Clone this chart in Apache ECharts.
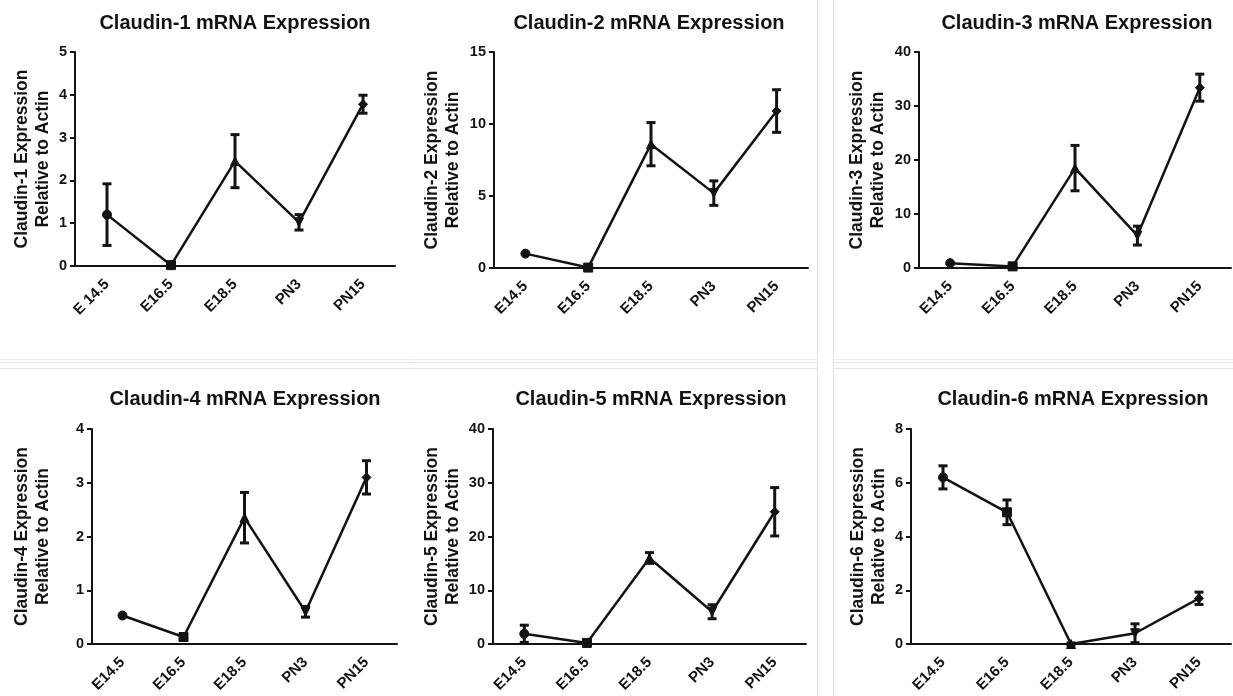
<!DOCTYPE html>
<html>
<head>
<meta charset="utf-8">
<script src="https://cdn.jsdelivr.net/npm/echarts@6/dist/echarts.min.js"></script>
<style>
html,body{margin:0;padding:0;background:#fff;}
#c{width:1233px;height:696px;}
</style>
</head>
<body>
<div id="c"></div>
<script>
// ---- data ----
const categories1 = ['E 14.5', 'E16.5', 'E18.5', 'PN3', 'PN15'];
const categories = ['E14.5', 'E16.5', 'E18.5', 'PN3', 'PN15'];

const cldn1Mean = [1.2, 0.02, 2.45, 1.02, 3.78];
const cldn1Err  = [0.72, 0.03, 0.62, 0.18, 0.21];
const cldn1Ticks = { min: 0, max: 5, interval: 1 };

const cldn2Mean = [1.0, 0.03, 8.6, 5.2, 10.9];
const cldn2Err  = [0, 0, 1.5, 0.85, 1.48];
const cldn2Ticks = { min: 0, max: 15, interval: 5 };

const cldn3Mean = [0.9, 0.3, 18.5, 6.0, 33.4];
const cldn3Err  = [0, 0.2, 4.2, 1.75, 2.5];
const cldn3Ticks = { min: 0, max: 40, interval: 10 };

const cldn4Mean = [0.53, 0.13, 2.35, 0.6, 3.1];
const cldn4Err  = [0, 0.02, 0.47, 0.1, 0.31];
const cldn4Ticks = { min: 0, max: 4, interval: 1 };

const cldn5Mean = [1.9, 0.2, 16.0, 6.0, 24.6];
const cldn5Err  = [1.6, 0.2, 1.0, 1.3, 4.5];
const cldn5Ticks = { min: 0, max: 40, interval: 10 };

const cldn6Mean = [6.2, 4.9, 0, 0.4, 1.7];
const cldn6Err  = [0.43, 0.46, 0.04, 0.35, 0.23];
const cldn6Ticks = { min: 0, max: 8, interval: 2 };

const titles = [
  'Claudin-1 mRNA Expression', 'Claudin-2 mRNA Expression', 'Claudin-3 mRNA Expression',
  'Claudin-4 mRNA Expression', 'Claudin-5 mRNA Expression', 'Claudin-6 mRNA Expression'
];
const yNames = [
  'Claudin-1 Expression\nRelative to Actin', 'Claudin-2 Expression\nRelative to Actin',
  'Claudin-3 Expression\nRelative to Actin', 'Claudin-4 Expression\nRelative to Actin',
  'Claudin-5 Expression\nRelative to Actin', 'Claudin-6 Expression\nRelative to Actin'
];

// ---- layout (styles) ----
const panels = [
  { cats: categories1, mean: cldn1Mean, err: cldn1Err, ticks: cldn1Ticks, grid: {left: 75, top: 52, width: 320, height: 214}, titleX: 230, titleTop: 8, nameGap: 21 },
  { cats: categories, mean: cldn2Mean, err: cldn2Err, ticks: cldn2Ticks, grid: {left: 494, top: 52, width: 314, height: 216}, titleX: 644, titleTop: 8, nameGap: 30 },
  { cats: categories, mean: cldn3Mean, err: cldn3Err, ticks: cldn3Ticks, grid: {left: 919, top: 52, width: 312, height: 216}, titleX: 1072, titleTop: 8, nameGap: 30 },
  { cats: categories, mean: cldn4Mean, err: cldn4Err, ticks: cldn4Ticks, grid: {left: 92, top: 429, width: 305, height: 215}, titleX: 240, titleTop: 384, nameGap: 38 },
  { cats: categories, mean: cldn5Mean, err: cldn5Err, ticks: cldn5Ticks, grid: {left: 493, top: 429, width: 313, height: 215}, titleX: 646, titleTop: 384, nameGap: 29 },
  { cats: categories, mean: cldn6Mean, err: cldn6Err, ticks: cldn6Ticks, grid: {left: 911, top: 429, width: 320, height: 215}, titleX: 1068, titleTop: 384, nameGap: 21 }
];

const INK = '#131313';
const FONT = '"Liberation Sans", Arial, sans-serif';
const shapes = ['circle', 'rect', 'triangle', 'path://M0,0 L10,0 L5,10 Z', 'diamond'];

const option = {
  animation: false,
  backgroundColor: '#fff',
  title: [], grid: [], xAxis: [], yAxis: [], series: [],
  graphic: [
    { type: 'line', shape: {x1: 817.5, y1: 0, x2: 817.5, y2: 696}, style: {stroke: '#e2e2e2', lineWidth: 1}, silent: true },
    { type: 'line', shape: {x1: 833.5, y1: 0, x2: 833.5, y2: 696}, style: {stroke: '#e2e2e2', lineWidth: 1}, silent: true },
    { type: 'line', shape: {x1: 0, y1: 359.5, x2: 817, y2: 359.5}, style: {stroke: '#ececec', lineWidth: 1}, silent: true },
    { type: 'line', shape: {x1: 0, y1: 362.5, x2: 817, y2: 362.5}, style: {stroke: '#e4e4e4', lineWidth: 1}, silent: true },
    { type: 'line', shape: {x1: 0, y1: 368.5, x2: 817, y2: 368.5}, style: {stroke: '#e4e4e4', lineWidth: 1}, silent: true },
    { type: 'line', shape: {x1: 834, y1: 359.5, x2: 1233, y2: 359.5}, style: {stroke: '#ececec', lineWidth: 1}, silent: true },
    { type: 'line', shape: {x1: 834, y1: 362.5, x2: 1233, y2: 362.5}, style: {stroke: '#e4e4e4', lineWidth: 1}, silent: true },
    { type: 'line', shape: {x1: 834, y1: 368.5, x2: 1233, y2: 368.5}, style: {stroke: '#e4e4e4', lineWidth: 1}, silent: true }
  ]
};

panels.forEach((p, i) => {
  option.title.push({
    text: titles[i], left: p.titleX, top: p.titleTop, textAlign: 'center',
    textStyle: { fontFamily: FONT, fontSize: 20, fontWeight: 'bold', color: INK }
  });
  option.grid.push(Object.assign({ containLabel: false }, p.grid));
  option.xAxis.push({
    type: 'category', gridIndex: i, data: p.cats, boundaryGap: true,
    axisLine: { lineStyle: { color: INK, width: 2 } },
    axisTick: { alignWithLabel: true, length: 5, lineStyle: { color: INK, width: 2 } },
    axisLabel: { rotate: 45, margin: 16, color: INK, fontFamily: FONT, fontSize: 15, fontWeight: 'bold', interval: 0 },
    splitLine: { show: false }
  });
  option.yAxis.push({
    type: 'value', gridIndex: i, min: p.ticks.min, max: p.ticks.max, interval: p.ticks.interval,
    name: yNames[i], nameLocation: 'middle', nameGap: p.nameGap,
    nameTextStyle: { fontFamily: FONT, fontSize: 17.5, fontWeight: 'bold', color: INK, lineHeight: 21 },
    axisLine: { show: true, lineStyle: { color: INK, width: 2 } },
    axisTick: { show: true, length: 5, lineStyle: { color: INK, width: 2 } },
    axisLabel: { margin: 8, color: INK, fontFamily: FONT, fontSize: 14.5, fontWeight: 'bold' },
    splitLine: { show: false }
  });
  option.series.push({
    type: 'line', xAxisIndex: i, yAxisIndex: i, data: p.mean,
    symbol: (v, params) => shapes[params.dataIndex],
    symbolSize: 9, showSymbol: true, z: 3,
    lineStyle: { color: INK, width: 2.5 },
    itemStyle: { color: INK, borderColor: INK, borderWidth: 1 }
  });
  const errData = p.mean.map((m, k) => [k, m - p.err[k], m + p.err[k]]);
  option.series.push({
    type: 'custom', xAxisIndex: i, yAxisIndex: i, data: errData, z: 4,
    renderItem: (params, api) => {
      const idx = api.value(0), lo = api.value(1), hi = api.value(2);
      if (hi - lo <= 0) return null;
      const top = api.coord([idx, hi]);
      const bot = api.coord([idx, lo]);
      const hw = 4.5;
      const st = { stroke: INK, lineWidth: 3, fill: null };
      return { type: 'group', children: [
        { type: 'line', shape: { x1: top[0], y1: top[1], x2: bot[0], y2: bot[1] }, style: st },
        { type: 'line', shape: { x1: top[0] - hw, y1: top[1], x2: top[0] + hw, y2: top[1] }, style: st },
        { type: 'line', shape: { x1: bot[0] - hw, y1: bot[1], x2: bot[0] + hw, y2: bot[1] }, style: st }
      ]};
    }
  });
});

const chart = echarts.init(document.getElementById('c'), null, { renderer: 'canvas' });
chart.setOption(option);
</script>
</body>
</html>
